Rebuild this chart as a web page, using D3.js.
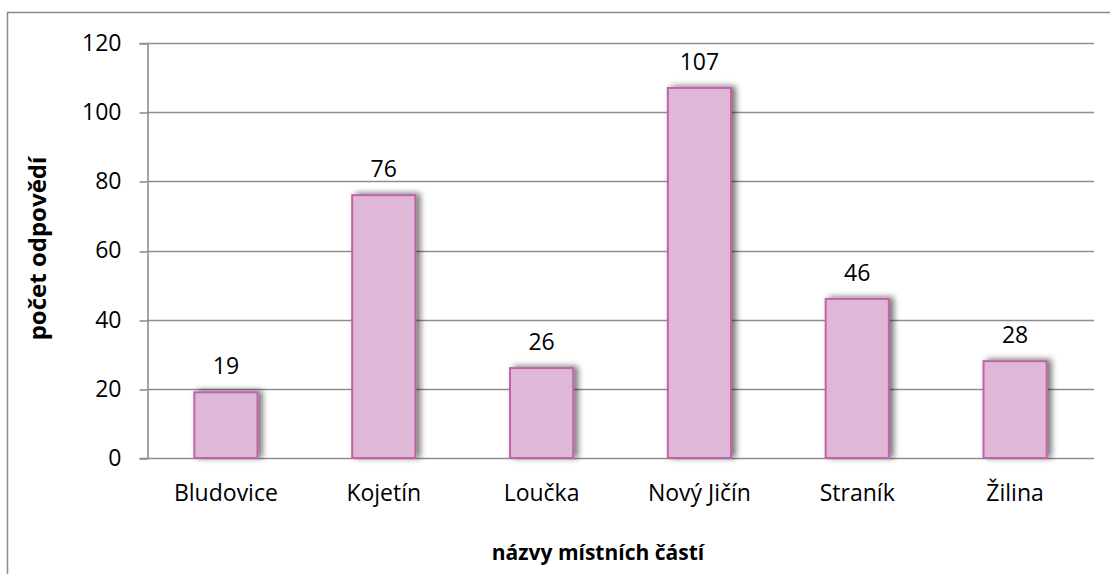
<!DOCTYPE html>
<html>
<head>
<meta charset="utf-8">
<script src="https://cdn.jsdelivr.net/npm/d3@7"></script>
<style>
  html, body { margin: 0; padding: 0; background: #fff; }
  svg { display: block; }
  text { font-family: "Open Sans", "Noto Sans", sans-serif; fill: #000; }
</style>
</head>
<body>
<svg id="chart" width="1110" height="574"></svg>
<script>
// Počet odpovědí podle místních částí
const categories = ["Bludovice", "Kojetín", "Loučka", "Nový Jičín", "Straník", "Žilina"];
const values = [19, 76, 26, 107, 46, 28];
const yTicks = [0, 20, 40, 60, 80, 100, 120];
const yTitle = "počet odpovědí";
const xTitle = "názvy místních částí";

const svg = d3.select("#chart");
const W = 1110, H = 574;
const margin = { left: 147, right: 16, top: 43, bottom: 116 };

// outer chart frame
svg.append("rect")
  .attr("x", 7.5).attr("y", 12.5)
  .attr("width", W + 20).attr("height", H + 20)
  .attr("fill", "none").attr("stroke", "#8a8a8a").attr("stroke-width", 1.5);

const defs = svg.append("defs");
const f = defs.append("filter").attr("id", "barShadow")
  .attr("x", "-30%").attr("y", "-30%").attr("width", "160%").attr("height", "160%");
f.append("feGaussianBlur").attr("in", "SourceAlpha").attr("stdDeviation", 3).attr("result", "b");
f.append("feOffset").attr("in", "b").attr("dx", 4).attr("dy", -1).attr("result", "o");
f.append("feComponentTransfer").attr("in", "o").attr("result", "s")
  .append("feFuncA").attr("type", "linear").attr("slope", 0.55);
const m = f.append("feMerge");
m.append("feMergeNode").attr("in", "s");
m.append("feMergeNode").attr("in", "SourceGraphic");

const x = d3.scaleBand()
  .domain(categories)
  .range([margin.left, W - margin.right])
  .paddingInner(0.6).paddingOuter(0.3);

const y = d3.scaleLinear()
  .domain([0, 120])
  .range([H - margin.bottom, margin.top]);

// horizontal gridlines
svg.append("g")
  .selectAll("line")
  .data(yTicks)
  .join("line")
  .attr("x1", margin.left).attr("x2", W - margin.right)
  .attr("y1", d => Math.round(y(d)) + 0.5).attr("y2", d => Math.round(y(d)) + 0.5)
  .attr("stroke", "#8e8e8e").attr("stroke-width", 1.6);

// y axis
const yAxis = svg.append("g")
  .attr("transform", `translate(${margin.left + 0.5},0)`)
  .call(d3.axisLeft(y).tickValues(yTicks).tickSize(8).tickPadding(18));
yAxis.select(".domain").attr("stroke", "#8e8e8e").attr("stroke-width", 1.6);
yAxis.selectAll(".tick line").attr("stroke", "#8e8e8e").attr("stroke-width", 1.6)
  .attr("transform", d => `translate(0,${Math.round(y(d)) + 0.5 - y(d)})`);
yAxis.selectAll(".tick text")
  .attr("font-family", "'Open Sans', sans-serif").attr("font-size", 23).attr("fill", "#000");

// bars
svg.append("g")
  .selectAll("rect")
  .data(values)
  .join("rect")
  .attr("x", (d, i) => x(categories[i]))
  .attr("y", d => y(d))
  .attr("width", x.bandwidth())
  .attr("height", d => y(0) - y(d))
  .attr("fill", "#dfb8d8")
  .attr("stroke", "#c263a9")
  .attr("stroke-width", 2)
  .attr("filter", "url(#barShadow)");

// value labels
svg.append("g")
  .selectAll("text")
  .data(values)
  .join("text")
  .attr("x", (d, i) => x(categories[i]) + x.bandwidth() / 2)
  .attr("y", d => y(d) - 18)
  .attr("text-anchor", "middle")
  .attr("font-size", 23)
  .text(d => d);

// category labels
svg.append("g")
  .selectAll("text")
  .data(categories)
  .join("text")
  .attr("x", d => x(d) + x.bandwidth() / 2)
  .attr("y", y(0) + 43)
  .attr("text-anchor", "middle")
  .attr("font-size", 23)
  .text(d => d);

// axis titles
svg.append("text")
  .attr("transform", `translate(46,${(y(0) + y(120)) / 2 - 2}) rotate(-90)`)
  .attr("text-anchor", "middle")
  .attr("font-size", 24).attr("font-weight", "bold")
  .text(yTitle);

svg.append("text")
  .attr("x", 598).attr("y", 560)
  .attr("text-anchor", "middle")
  .attr("font-size", 21).attr("font-weight", "bold")
  .text(xTitle);
</script>
</body>
</html>
